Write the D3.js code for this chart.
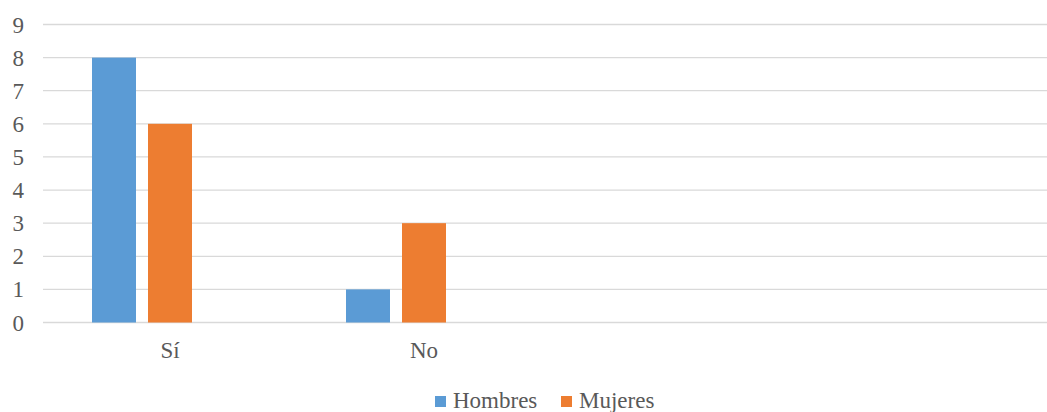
<!DOCTYPE html>
<html>
<head>
<meta charset="utf-8">
<script src="https://cdn.jsdelivr.net/npm/d3@7"></script>
<style>
  html, body { margin: 0; padding: 0; background: #fff; }
  svg { display: block; }
</style>
</head>
<body>
<svg id="chart" width="1047" height="412"></svg>
<script>
// Categories along the x axis (two trailing empty slots keep the category width)
const categories = ["Sí", "No", "", ""];
// Series values per category
const hombres = [8, 1, null, null];
const mujeres = [6, 3, null, null];
const seriesNames = ["Hombres", "Mujeres"];
const seriesColors = ["#5b9bd5", "#ed7d31"];
// Third slot in each group is reserved for an empty series
const slotKeys = ["Hombres", "Mujeres", "reserved"];
const yTicks = [0, 1, 2, 3, 4, 5, 6, 7, 8, 9];

const FONT = "'Liberation Serif', 'Times New Roman', Times, serif";

const svg = d3.select("#chart")
  .attr("font-family", FONT);
const plotLeft = 43, step = 254;
const plotTop = 24.5, plotBottom = 322.5;

const x0 = d3.scaleBand()
  .domain(categories.map((c, i) => i))
  .range([plotLeft, plotLeft + step * categories.length])
  .paddingInner(0).paddingOuter(0);

const x1 = d3.scaleBand()
  .domain(slotKeys)
  .range([49, step - 49])
  .paddingInner(12 / 56)
  .paddingOuter(0);

const y = d3.scaleLinear().domain([0, 9]).range([plotBottom, plotTop]);

// Horizontal gridlines
svg.append("g")
  .selectAll("line")
  .data(yTicks)
  .join("line")
  .attr("x1", plotLeft)
  .attr("x2", 1047)
  .attr("y1", d => y(d))
  .attr("y2", d => y(d))
  .attr("stroke", "#d9d9d9")
  .attr("stroke-width", 1.3);

// Y axis labels
svg.append("g")
  .selectAll("text")
  .data(yTicks)
  .join("text")
  .attr("x", 24)
  .attr("y", d => y(d))
  .attr("dy", "0.35em")
  .attr("text-anchor", "end")
  .attr("font-family", FONT)
  .attr("font-size", 23)
  .attr("fill", "#595959")
  .text(d => d);

// Bars
const series = [hombres, mujeres];
series.forEach((vals, s) => {
  svg.append("g")
    .selectAll("rect")
    .data(vals.map((v, i) => ({ v, i })).filter(d => d.v != null))
    .join("rect")
    .attr("x", d => x0(d.i) + x1(seriesNames[s]))
    .attr("width", x1.bandwidth())
    .attr("y", d => y(d.v))
    .attr("height", d => y(0) - y(d.v))
    .attr("fill", seriesColors[s]);
});

// Category labels
svg.append("g")
  .selectAll("text")
  .data(categories)
  .join("text")
  .attr("x", (d, i) => x0(i) + x0.bandwidth() / 2)
  .attr("y", 358)
  .attr("text-anchor", "middle")
  .attr("font-family", FONT)
  .attr("font-size", 23)
  .attr("fill", "#595959")
  .text(d => d);

// Legend
const legend = svg.append("g");
const legendX = [435, 561];
seriesNames.forEach((name, s) => {
  legend.append("rect")
    .attr("x", legendX[s])
    .attr("y", 396)
    .attr("width", 11)
    .attr("height", 11)
    .attr("fill", seriesColors[s]);
  legend.append("text")
    .attr("x", legendX[s] + 18)
    .attr("y", 408)
    .attr("font-family", FONT)
    .attr("font-size", 23)
    .attr("fill", "#595959")
    .text(name);
});
</script>
</body>
</html>
